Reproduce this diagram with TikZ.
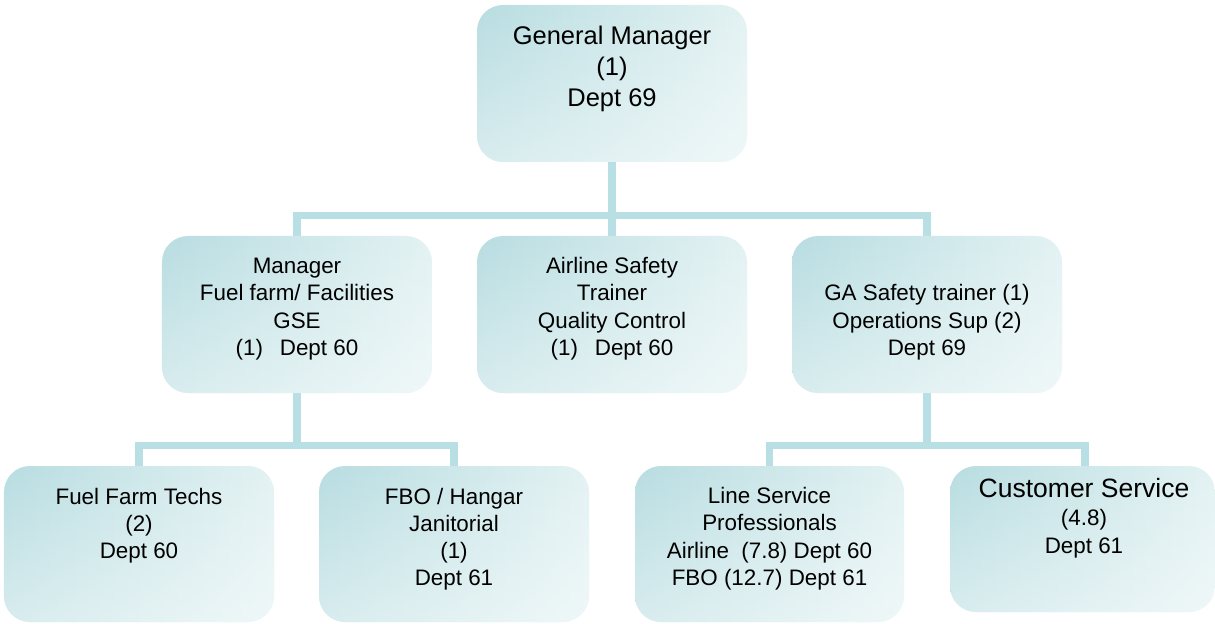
\documentclass[tikz,border=0pt]{standalone}
\usepackage{fontspec}
\setmainfont{Liberation Sans}
\usetikzlibrary{fadings,backgrounds}
\definecolor{boxdark}{HTML}{B8DDE1}
\definecolor{boxlight}{HTML}{E3F2F3}
\definecolor{linkcol}{HTML}{B8DFE3}
\tikzset{
  orgbox/.style={rectangle, rounded corners=26bp, draw=none, inner sep=0pt,
    minimum width=270bp, minimum height=157bp,
    left color=boxdark, right color=boxlight,
    path picture={\fill[white, fill opacity=0.45, path fading=north]
      (path picture bounding box.south west) rectangle (path picture bounding box.north east);}},
  orgtxt/.style={anchor=base, align=center, inner sep=0pt, text=black,
    font=\fontsize{22.4bp}{27.6bp}\selectfont},
  bigtxt/.style={orgtxt, font=\fontsize{25.5bp}{31bp}\selectfont},
  link/.style={draw=linkcol, line width=7.5bp, line join=miter, line cap=butt}
}
\begin{document}
\begin{tikzpicture}[x=1bp, y=-1bp]
\useasboundingbox (0,0) rectangle (1215,624);
% boxes
\node[orgbox] (gm) at (612,83.5) {};
\node[orgbox] (m1) at (297,314.5) {};
\node[orgbox] (m2) at (612,314.5) {};
\node[orgbox] (m3) at (927,314.5) {};
\node[orgbox, minimum height=156bp] (b1) at (139,544) {};
\node[orgbox, minimum height=156bp] (b2) at (454,544) {};
\node[orgbox, minimum height=156bp, minimum width=269bp] (b3) at (769.5,544) {};
\node[orgbox, minimum height=146bp, minimum width=265bp] (b4) at (1082.5,539) {};
% connectors
\coordinate (j1) at (612,215.5);
\coordinate (j2) at (297,445.5);
\coordinate (j3) at (927,445.5);
\coordinate (b4top) at ([xshift=2.5bp]b4.north);
\begin{scope}[on background layer]
  \draw[link] (gm.south) -- (m2.north);
  \draw[link] (m1.north) |- (j1) -| (m3.north);
  \draw[link] (m1.south) -- (j2);
  \draw[link] (b1.north) |- (j2) -| (b2.north);
  \draw[link] (m3.south) -- (j3);
  \draw[link] (b3.north) |- (j3) -| (b4top);
\end{scope}
% texts (anchor base = baseline of last line)
\node[bigtxt] (tgm) at (612,107) {General Manager\\(1)\\Dept 69};
\node[orgtxt] (tm1) at (297,356) {Manager\\Fuel farm/ Facilities\\GSE\\(1)\hspace{0.75em}Dept 60};
\node[orgtxt] (tm2) at (612,356) {Airline Safety\\Trainer\\Quality Control\\(1)\hspace{0.75em}Dept 60};
\node[orgtxt] (tm3) at (927,355.7) {GA Safety trainer (1)\\Operations Sup (2)\\Dept 69};
\node[orgtxt, font=\fontsize{22.4bp}{27bp}\selectfont] (tb1) at (139,558) {Fuel Farm Techs\\(2)\\Dept 60};
\node[orgtxt, font=\fontsize{22.4bp}{27.2bp}\selectfont] (tb2) at (454,585.6) {FBO / Hangar\\Janitorial\\(1)\\Dept 61};
\node[orgtxt, font=\fontsize{22.4bp}{27.4bp}\selectfont] (tb3) at (769.5,585.7) {Line Service\\Professionals\\Airline\hspace{0.55em}(7.8) Dept 60\\FBO (12.7) Dept 61};
\node[orgtxt, font=\fontsize{22.4bp}{27.8bp}\selectfont] (tb4) at (1084,553.3) {{\fontsize{26.5bp}{28bp}\selectfont Customer Service}\\(4.8)\\Dept 61};
\end{tikzpicture}
\end{document}
